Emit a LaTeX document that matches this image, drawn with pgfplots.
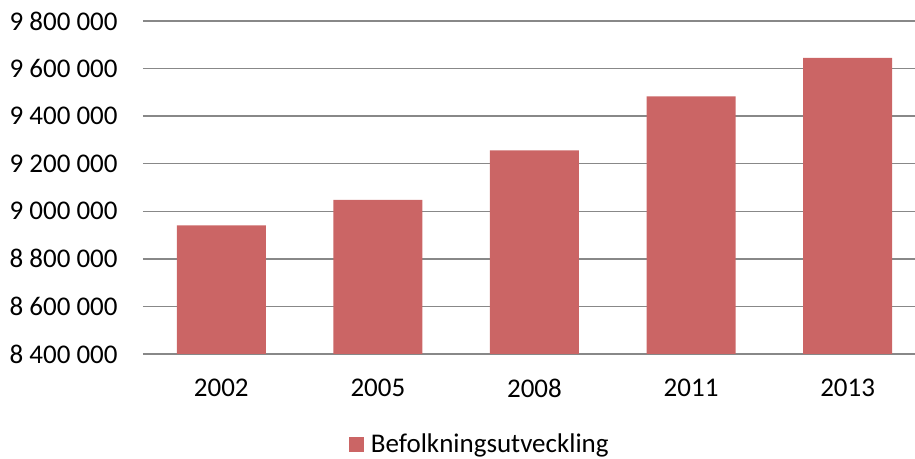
\documentclass[border=0pt]{standalone}
\usepackage{pgfplots}
\pgfplotsset{compat=1.18}
\usepackage{fontspec}
\setmainfont{Carlito}
\definecolor{barred}{RGB}{203,101,101}
\definecolor{gridgray}{RGB}{136,136,136}

\begin{document}
\fontsize{13.5}{16}\selectfont
\begin{tikzpicture}
% frame of the whole picture, 915 x 459 px at 0.5pt per px
\path[use as bounding box] (-71.5pt,-52.5pt) rectangle (386pt,177pt);
\begin{axis}[
    at={(0,0)}, anchor=south west,
    scale only axis,
    width=386pt,
    height=166.5pt,
    xmin=-0.5, xmax=4.43,
    ymin=8400000, ymax=9800000,
    scaled y ticks=false,
    xtick={0,1,2,3,4},
    xticklabels={2002,2005,2008,2011,2013},
    ytick={8400000,8600000,8800000,9000000,9200000,9400000,9600000,9800000},
    yticklabels={8 400 000,8 600 000,8 800 000,9 000 000,9 200 000,9 400 000,9 600 000,9 800 000},
    ymajorgrids,
    major grid style={gridgray, line width=0.75pt},
    axis line style={draw=none},
    major tick length=0pt,
    tick label style={font=\fontsize{13.5}{16}\selectfont},
    yticklabel style={anchor=east, inner sep=0pt, xshift=-12.5pt},
    xticklabel style={anchor=north, inner sep=0pt, yshift=-12.5pt},
    ybar,
    bar width=44.5pt,
    legend style={at={(0.435,-0.273)}, anchor=center, draw=none, fill=none,
        inner sep=0pt, font=\fontsize{13.5}{16}\selectfont,
        nodes={inner sep=0pt}, column sep=3.5pt},
    legend image code/.code={\fill[barred] (0pt,-3.75pt) rectangle (7.5pt,3.75pt);},
]
\addplot[fill=barred, draw=none] coordinates {
    (0,8940788)
    (1,9047752)
    (2,9256347)
    (3,9482855)
    (4,9644864)
};
\addlegendentry{Befolkningsutveckling}
\end{axis}
\end{tikzpicture}
\end{document}
